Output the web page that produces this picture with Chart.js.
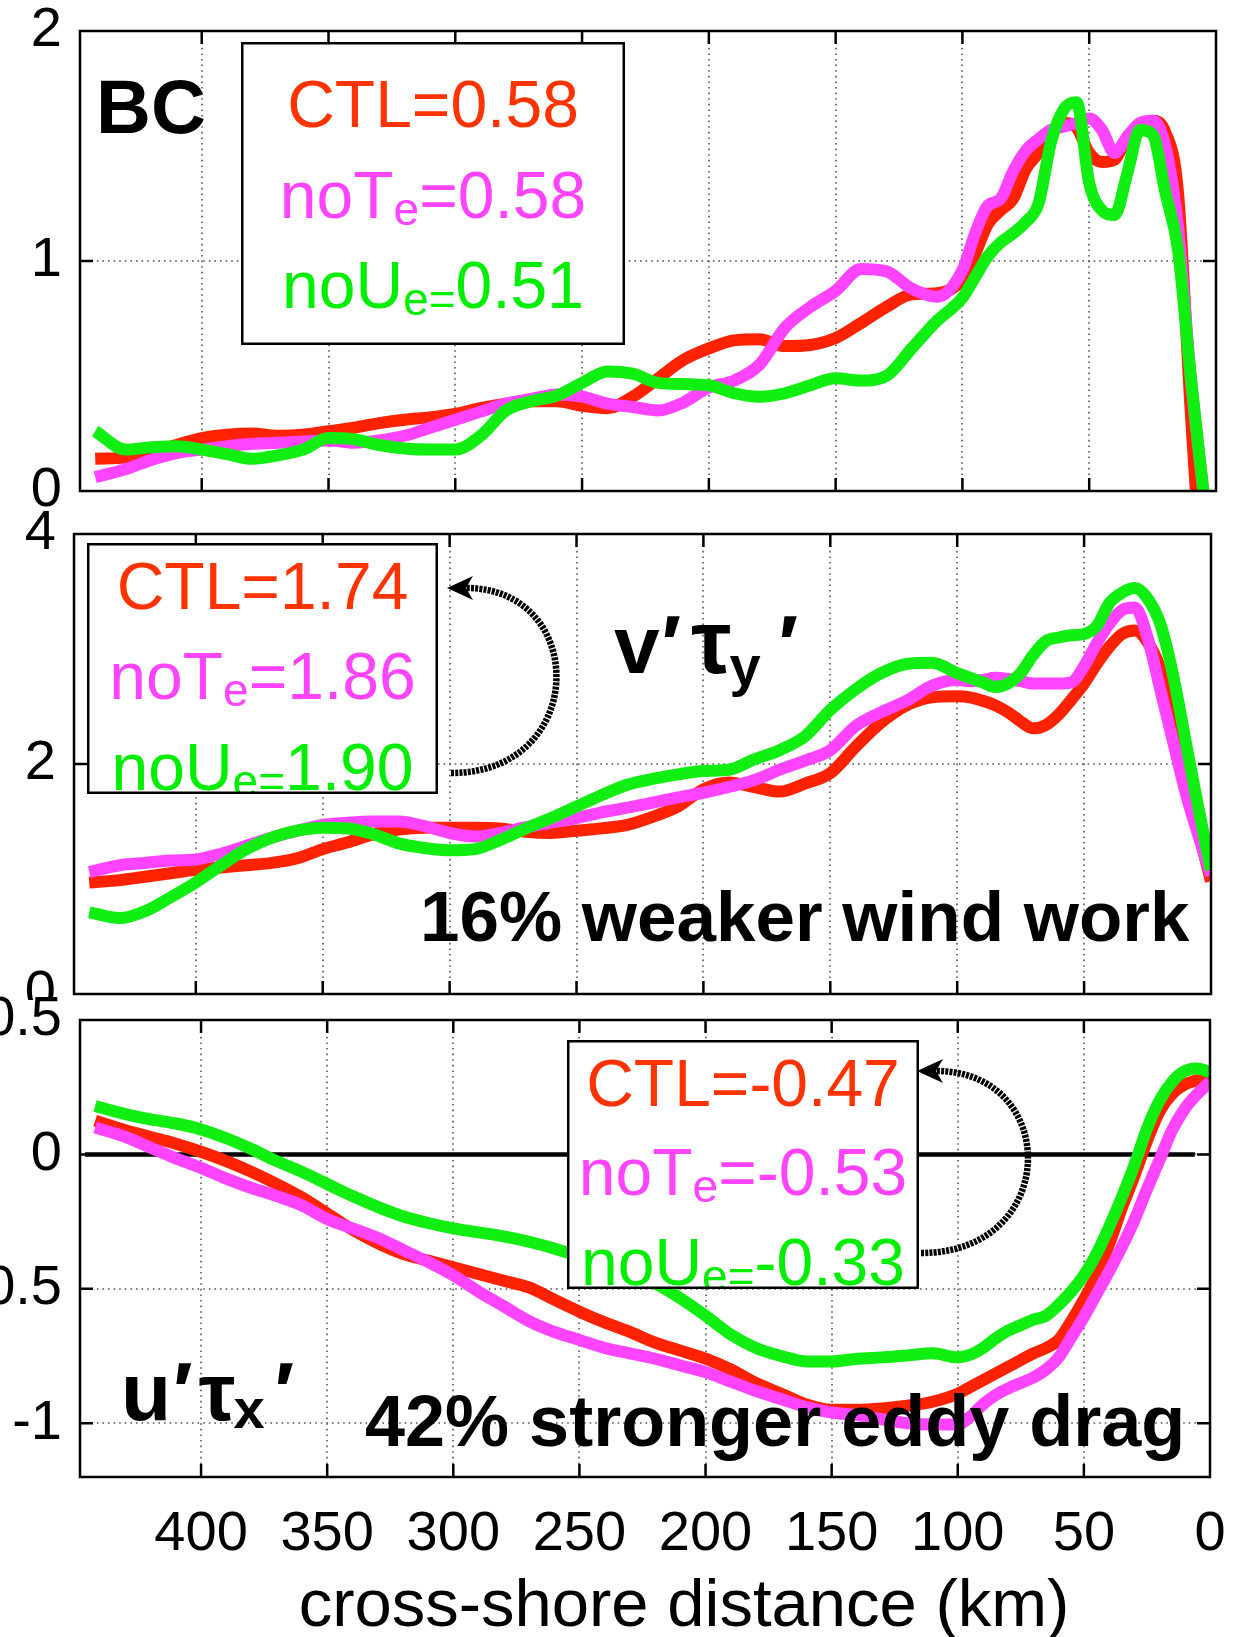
<!DOCTYPE html>
<html>
<head>
<meta charset="utf-8">
<title>BC, v'ty', u'tx' cross-shore profiles</title>
<script src="https://cdn.jsdelivr.net/npm/chart.js@4.4.0/dist/chart.umd.min.js"></script>
<style>
  html, body { margin: 0; padding: 0; background: #fff; }
  #page { position: relative; width: 1237px; height: 1637px; overflow: hidden; background: #fff; }
  #page canvas { position: absolute; left: 0; }
  #notes { position: absolute; left: 0; top: 0; }
  #notes text { font-family: "Liberation Sans", Arial, Helvetica, sans-serif; }
</style>
</head>
<body>
<div id="page">
  <canvas id="bcChart"></canvas>
  <canvas id="windChart"></canvas>
  <canvas id="dragChart"></canvas>

  <svg id="notes" width="1237" height="1637" xmlns="http://www.w3.org/2000/svg">
    <!-- panel 1 -->
    <text x="96" y="133" font-size="76" font-weight="bold" fill="#000">BC</text>
    <svg x="241" y="42" width="384" height="303">
      <rect x="0" y="0" width="384" height="303" fill="#fff"/>
      <text x="192" y="85" text-anchor="middle" font-size="66" fill="#ff3300">CTL=0.58</text>
      <text x="192" y="176" text-anchor="middle" font-size="66" fill="#ff44ff">noT<tspan font-size="46" dy="7">e</tspan><tspan dy="-7">=0.58</tspan></text>
      <text x="192" y="266" text-anchor="middle" font-size="66" fill="#00ee00">noU<tspan font-size="46" dy="7">e=</tspan><tspan dy="-7">0.51</tspan></text>
      <rect x="1.25" y="1.25" width="381.5" height="300.5" fill="none" stroke="#000" stroke-width="2.5"/>
    </svg>

    <!-- panel 2 -->
    <svg x="87" y="543" width="351" height="251">
      <rect x="0" y="0" width="351" height="251" fill="#fff"/>
      <text x="175.5" y="66" text-anchor="middle" font-size="66" fill="#ff3300">CTL=1.74</text>
      <text x="175.5" y="156" text-anchor="middle" font-size="66" fill="#ff44ff">noT<tspan font-size="46" dy="7">e</tspan><tspan dy="-7">=1.86</tspan></text>
      <text x="175.5" y="247" text-anchor="middle" font-size="66" fill="#00ee00">noU<tspan font-size="46" dy="7">e=</tspan><tspan dy="-7">1.90</tspan></text>
      <rect x="1.25" y="1.25" width="348.5" height="248.5" fill="none" stroke="#000" stroke-width="2.5"/>
    </svg>
    <path d="M451,773 C589,773 589,588 466,588" fill="none" stroke="#000" stroke-width="6.5" stroke-dasharray="3 1.2"/>
    <path d="M447,588 L473,576 L466,588 L473,600 Z" fill="#000"/>
    <text x="614" y="673" font-size="82" font-weight="bold" fill="#000">v<tspan dx="2">′</tspan><tspan dx="10" font-size="90">τ</tspan><tspan font-size="56" dy="12" dx="-2">y</tspan><tspan dy="-12" dx="18">′</tspan></text>
    <text x="420" y="941" font-size="71" font-weight="bold" fill="#000">16% weaker wind work</text>

    <!-- panel 3 -->
    <svg x="567" y="1040" width="352" height="249">
      <rect x="0" y="0" width="352" height="249" fill="#fff"/>
      <text x="176" y="66" text-anchor="middle" font-size="66" fill="#ff3300">CTL=-0.47</text>
      <text x="176" y="155" text-anchor="middle" font-size="66" fill="#ff44ff">noT<tspan font-size="46" dy="7">e</tspan><tspan dy="-7">=-0.53</tspan></text>
      <text x="176" y="245" text-anchor="middle" font-size="66" fill="#00ee00">noU<tspan font-size="46" dy="7">e=</tspan><tspan dy="-7">-0.33</tspan></text>
      <rect x="1.25" y="1.25" width="349.5" height="246.5" fill="none" stroke="#000" stroke-width="2.5"/>
    </svg>
    <path d="M921,1253 C1061,1253 1061,1071 936,1071" fill="none" stroke="#000" stroke-width="6.5" stroke-dasharray="3 1.2"/>
    <path d="M917,1071 L943,1059 L936,1071 L943,1083 Z" fill="#000"/>
    <text x="121" y="1420" font-size="82" font-weight="bold" fill="#000">u<tspan dx="2">′</tspan><tspan dx="6">τ</tspan><tspan font-size="56" dy="8" dx="-2">x</tspan><tspan dy="-8" dx="10">′</tspan></text>
    <text x="365" y="1446" font-size="72" font-weight="bold" fill="#000">42% stronger eddy drag</text>

    <text x="684" y="1626" font-size="67" text-anchor="middle" fill="#000">cross-shore distance (km)</text>
  </svg>
</div>

<script>
// cross-shore distance of every sample (km from the coast)
const distKm = [442, 430, 420, 410, 400, 390, 380, 370, 360, 350, 340, 330, 320, 310, 300,
  290, 280, 270, 260, 250, 240, 230, 220, 210, 200, 190, 180, 170, 160, 150, 140, 130, 120,
  110, 100, 95, 90, 85, 80, 75, 70, 65, 60, 55, 50, 45, 40, 35, 30, 25, 20, 15, 10, 5, 0];
const xTicks = [400, 350, 300, 250, 200, 150, 100, 50, 0];

// top panel: BC conversion
const bcTicks = [0, 1, 2];
const bcCTL = [0.14, 0.145, 0.165, 0.2, 0.23, 0.245, 0.25, 0.24, 0.245, 0.26, 0.275, 0.295, 0.31, 0.32, 0.335,
  0.36, 0.38, 0.39, 0.39, 0.37, 0.36, 0.41, 0.49, 0.57, 0.62, 0.655, 0.66, 0.63, 0.635, 0.665, 0.73, 0.8, 0.855,
  0.86, 0.92, 1.03, 1.16, 1.22, 1.27, 1.4, 1.47, 1.55, 1.6, 1.58, 1.47, 1.43, 1.44, 1.54, 1.59, 1.61, 1.56, 1.3, 0.35, -0.5, null];
const bcNoTe = [0.06, 0.095, 0.135, 0.165, 0.18, 0.195, 0.205, 0.21, 0.215, 0.22, 0.21, 0.22, 0.24, 0.275, 0.31,
  0.345, 0.38, 0.4, 0.42, 0.41, 0.38, 0.365, 0.35, 0.385, 0.45, 0.48, 0.55, 0.71, 0.8, 0.87, 0.965, 0.955, 0.88,
  0.845, 0.96, 1.12, 1.24, 1.27, 1.39, 1.48, 1.53, 1.57, 1.585, 1.6, 1.62, 1.57, 1.47, 1.54, 1.6, 1.61, 1.5, 1.15, 0.5, 0, null];
const bcNoUe = [0.26, 0.18, 0.19, 0.195, 0.18, 0.16, 0.14, 0.155, 0.18, 0.23, 0.225, 0.2, 0.185, 0.18, 0.18,
  0.24, 0.35, 0.39, 0.415, 0.47, 0.52, 0.51, 0.47, 0.465, 0.46, 0.425, 0.41, 0.425, 0.46, 0.49, 0.48, 0.5, 0.62,
  0.74, 0.84, 0.93, 1.02, 1.08, 1.12, 1.17, 1.25, 1.52, 1.66, 1.69, 1.34, 1.22, 1.2, 1.38, 1.57, 1.55, 1.3, 1.05, 0.5, 0, null];

// middle panel: v'ty' wind work
const windTicks = [0, 2, 4];
const windCTL = [0.97, 0.99, 1.02, 1.05, 1.08, 1.1, 1.12, 1.14, 1.18, 1.26, 1.32, 1.39, 1.43, 1.445, 1.445,
  1.445, 1.44, 1.41, 1.4, 1.42, 1.44, 1.47, 1.54, 1.63, 1.78, 1.84, 1.8, 1.76, 1.83, 1.92, 2.15, 2.36, 2.51,
  2.58, 2.59, 2.58, 2.55, 2.51, 2.45, 2.37, 2.31, 2.34, 2.43, 2.56, 2.7, 2.87, 3.02, 3.13, 3.16, 3.06, 2.83, 2.35, 1.9, 1.42, 0.98];
const windNoTe = [1.06, 1.12, 1.14, 1.16, 1.17, 1.22, 1.29, 1.36, 1.42, 1.47, 1.49, 1.5, 1.5, 1.46, 1.4,
  1.37, 1.4, 1.45, 1.49, 1.53, 1.58, 1.62, 1.665, 1.71, 1.75, 1.8, 1.86, 1.95, 2.03, 2.12, 2.33, 2.45, 2.55,
  2.68, 2.73, 2.72, 2.73, 2.75, 2.74, 2.72, 2.7, 2.7, 2.7, 2.71, 2.85, 3.05, 3.22, 3.34, 3.36, 3.1, 2.65, 2.2, 1.75, 1.38, 1.03];
const windNoUe = [0.71, 0.66, 0.72, 0.84, 0.97, 1.12, 1.26, 1.36, 1.42, 1.445, 1.44, 1.39, 1.31, 1.27, 1.25,
  1.26, 1.34, 1.44, 1.53, 1.63, 1.73, 1.82, 1.87, 1.91, 1.94, 1.95, 2.04, 2.12, 2.24, 2.47, 2.65, 2.79, 2.87,
  2.88, 2.79, 2.75, 2.71, 2.67, 2.7, 2.79, 2.95, 3.07, 3.1, 3.12, 3.13, 3.2, 3.4, 3.49, 3.53, 3.44, 3.22, 2.78, 2.2, 1.62, 1.08];

// bottom panel: u'tx' eddy drag
const dragTicks = [-1, -0.5, 0, 0.5];
const dragCTL = [0.125, 0.09, 0.065, 0.04, 0.01, -0.025, -0.065, -0.11, -0.16, -0.22, -0.28, -0.33, -0.37, -0.395, -0.42,
  -0.445, -0.47, -0.495, -0.54, -0.585, -0.625, -0.66, -0.7, -0.73, -0.76, -0.8, -0.85, -0.89, -0.93, -0.95, -0.95, -0.945, -0.935,
  -0.92, -0.89, -0.865, -0.84, -0.815, -0.79, -0.765, -0.74, -0.72, -0.69, -0.62, -0.54, -0.45, -0.335, -0.2, -0.08, 0.05, 0.16, 0.225, 0.26, 0.275, 0.28];
const dragNoTe = [0.1, 0.065, 0.025, -0.015, -0.05, -0.09, -0.125, -0.155, -0.19, -0.24, -0.275, -0.31, -0.355, -0.4, -0.45,
  -0.51, -0.565, -0.62, -0.66, -0.69, -0.72, -0.74, -0.76, -0.785, -0.81, -0.845, -0.88, -0.91, -0.94, -0.96, -0.97, -0.985, -1.0,
  -1.005, -1.005, -0.975, -0.93, -0.895, -0.87, -0.85, -0.83, -0.8, -0.755, -0.68, -0.605, -0.52, -0.435, -0.345, -0.245, -0.13, -0.02, 0.09, 0.17, 0.225, 0.27];
const dragNoUe = [0.18, 0.15, 0.13, 0.115, 0.093, 0.06, 0.02, -0.025, -0.065, -0.11, -0.155, -0.195, -0.23, -0.255, -0.275,
  -0.29, -0.305, -0.325, -0.35, -0.38, -0.41, -0.44, -0.48, -0.535, -0.6, -0.67, -0.72, -0.75, -0.77, -0.77, -0.76, -0.755, -0.748,
  -0.74, -0.755, -0.745, -0.72, -0.685, -0.655, -0.635, -0.615, -0.6, -0.56, -0.51, -0.45, -0.37, -0.27, -0.16, -0.04, 0.095, 0.2, 0.27, 0.31, 0.32, 0.305];
const zeroLineKm = [446, 6];
const zeroLineVal = [0, 0];

const RED = '#ff2200';
const PINK = '#ff44ff';
const GREEN = '#11ee11';
const LINE_W = 12;

const CANVAS_W = 1300;
const PAD = 60;
const PAGE_H = 1637;

Chart.defaults.font.family = '"Liberation Sans", Arial, Helvetica, sans-serif';
Chart.defaults.color = '#000';

// matlab-like frame: dotted grid, inward tick marks, box
const matlabFrame = {
  id: 'matlabFrame',
  beforeDraw(chart, args, opts) {
    if (opts.whiteFrom == null) return;
    const ctx = chart.ctx;
    ctx.save();
    ctx.fillStyle = '#fff';
    ctx.fillRect(0, opts.whiteFrom, chart.width, chart.height - opts.whiteFrom);
    ctx.restore();
  },
  beforeDatasetsDraw(chart, args, opts) {
    const {ctx, chartArea: a, scales: {x, y}} = chart;
    ctx.save();
    ctx.strokeStyle = '#555';
    ctx.lineWidth = 1.6;
    ctx.setLineDash([1.6, 4]);
    opts.xTicks.forEach(v => {
      const px = Math.round(x.getPixelForValue(v));
      if (px <= a.left + 2 || px >= a.right - 2) return;
      ctx.beginPath(); ctx.moveTo(px, a.top); ctx.lineTo(px, a.bottom); ctx.stroke();
    });
    opts.yTicks.forEach(v => {
      const py = Math.round(y.getPixelForValue(v));
      if (py <= a.top + 2 || py >= a.bottom - 2) return;
      ctx.beginPath(); ctx.moveTo(a.left, py); ctx.lineTo(a.right, py); ctx.stroke();
    });
    ctx.restore();
  },
  afterDatasetsDraw(chart, args, opts) {
    const {ctx, chartArea: a, scales: {x, y}} = chart;
    const len = 13;
    ctx.save();
    ctx.strokeStyle = '#000';
    ctx.lineWidth = 2.5;
    ctx.beginPath();
    opts.xTicks.forEach(v => {
      const px = x.getPixelForValue(v);
      if (px <= a.left + 2 || px >= a.right - 2) return;
      ctx.moveTo(px, a.top); ctx.lineTo(px, a.top + len);
      ctx.moveTo(px, a.bottom); ctx.lineTo(px, a.bottom - len);
    });
    opts.yTicks.forEach(v => {
      const py = y.getPixelForValue(v);
      if (py <= a.top + 2 || py >= a.bottom - 2) return;
      ctx.moveTo(a.left, py); ctx.lineTo(a.left + len, py);
      ctx.moveTo(a.right, py); ctx.lineTo(a.right - len, py);
    });
    ctx.stroke();
    ctx.strokeRect(a.left, a.top, a.right - a.left, a.bottom - a.top);
    ctx.restore();
  }
};

function line(label, values, color) {
  return {
    label,
    data: distKm.map((km, i) => ({x: km, y: values[i]})),
    borderColor: color,
    borderWidth: LINE_W,
    pointRadius: 0,
    fill: false,
    cubicInterpolationMode: 'monotone',
    borderJoinStyle: 'round',
    spanGaps: false
  };
}

function makePanel(id, area, yMin, yMax, yTicks, datasets, showX, whiteFrom) {
  const canvas = document.getElementById(id);
  const top = area.top - PAD;
  const height = showX ? PAGE_H - top : (area.bottom - area.top) + 2 * PAD;
  canvas.width = CANVAS_W;
  canvas.height = height;
  canvas.style.top = top + 'px';
  canvas.style.width = CANVAS_W + 'px';
  canvas.style.height = height + 'px';

  return new Chart(canvas, {
    type: 'line',
    data: {datasets},
    options: {
      responsive: false,
      animation: false,
      devicePixelRatio: 1,
      layout: {padding: {left: 0, right: CANVAS_W - area.right, top: PAD, bottom: showX ? 0 : PAD}},
      plugins: {
        legend: {display: false},
        tooltip: {enabled: false},
        matlabFrame: {xTicks, yTicks, whiteFrom}
      },
      scales: {
        x: {
          type: 'linear',
          reverse: true,
          min: 0,
          max: 448,
          display: showX,
          afterBuildTicks: s => { s.ticks = xTicks.map(v => ({value: v})); },
          afterFit: s => { if (showX) s.height = PAGE_H - area.bottom; },
          ticks: {callback: v => String(v), font: {size: 56}, color: '#000', padding: 24, maxRotation: 0, autoSkip: false},
          grid: {display: false, drawTicks: false},
          border: {display: false}
        },
        y: {
          min: yMin,
          max: yMax,
          afterBuildTicks: s => { s.ticks = yTicks.map(v => ({value: v})); },
          afterFit: s => { s.width = area.left; },
          ticks: {callback: v => String(v), font: {size: 56}, color: '#000', padding: 18, autoSkip: false},
          grid: {display: false, drawTicks: false},
          border: {display: false}
        }
      }
    },
    plugins: [matlabFrame]
  });
}

makePanel('bcChart', {left: 80, right: 1216, top: 31, bottom: 491}, 0, 2, bcTicks, [
  line('noUe', bcNoUe, GREEN),
  line('noTe', bcNoTe, PINK),
  line('CTL', bcCTL, RED)
], false, null);

makePanel('windChart', {left: 74, right: 1211, top: 534, bottom: 994}, 0, 4, windTicks, [
  line('noUe', windNoUe, GREEN),
  line('noTe', windNoTe, PINK),
  line('CTL', windCTL, RED)
], false, null);

const zeroLine = {
  label: 'zero',
  data: zeroLineKm.map((km, i) => ({x: km, y: zeroLineVal[i]})),
  borderColor: '#000',
  borderWidth: 4.5,
  pointRadius: 0,
  fill: false
};

makePanel('dragChart', {left: 80, right: 1210, top: 1020, bottom: 1477}, -1.2, 0.5, dragTicks, [
  line('noUe', dragNoUe, GREEN),
  line('noTe', dragNoTe, PINK),
  line('CTL', dragCTL, RED),
  zeroLine
], true, 1000 - (1020 - PAD));
</script>
</body>
</html>
